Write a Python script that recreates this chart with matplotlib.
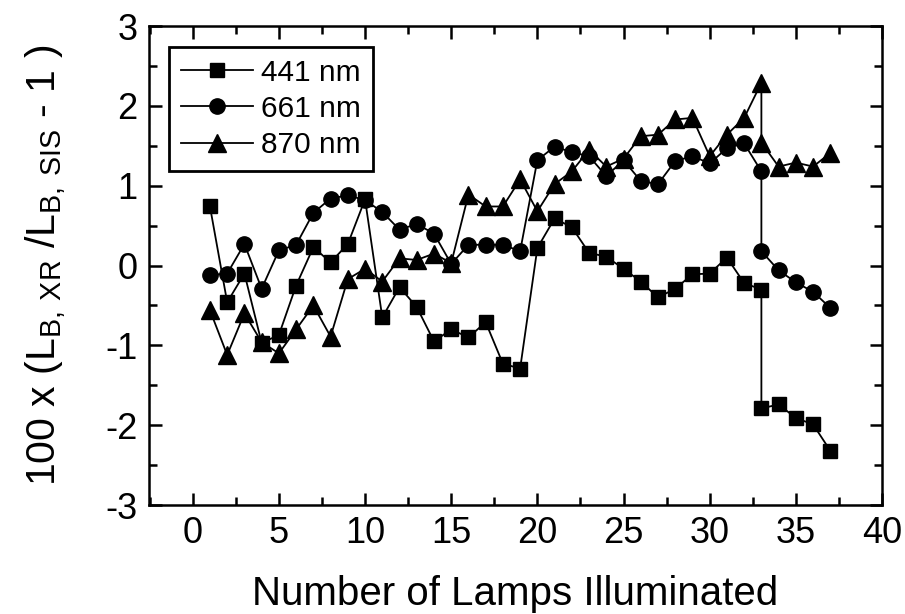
import matplotlib
matplotlib.use('Agg')
import matplotlib.pyplot as plt
from matplotlib.ticker import MultipleLocator

plt.rcParams['font.family'] = ['Liberation Sans', 'DejaVu Sans']
plt.rcParams['mathtext.fontset'] = 'custom'
plt.rcParams['mathtext.rm'] = 'Liberation Sans'
plt.rcParams['axes.unicode_minus'] = False

# lamp count (33 was measured twice)
lamps = list(range(1, 34)) + [33, 34, 35, 36, 37]

nm441 = [0.74, -0.46, -0.10, -0.97, -0.87, -0.25, 0.23, 0.04, 0.27, 0.83,
         -0.65, -0.27, -0.52, -0.95, -0.80, -0.90, -0.71, -1.23, -1.29, 0.22,
         0.59, 0.48, 0.16, 0.11, -0.04, -0.20, -0.40, -0.29, -0.11, -0.10,
         0.10, -0.22, -0.30, -1.79, -1.74, -1.91, -1.99, -2.32]
nm661 = [-0.12, -0.10, 0.27, -0.29, 0.19, 0.26, 0.66, 0.84, 0.88, 0.82,
         0.67, 0.45, 0.52, 0.40, 0.02, 0.26, 0.26, 0.26, 0.18, 1.32,
         1.49, 1.42, 1.37, 1.12, 1.32, 1.06, 1.02, 1.31, 1.37, 1.28,
         1.47, 1.53, 1.18, 0.18, -0.06, -0.21, -0.33, -0.53]
nm870 = [-0.56, -1.12, -0.60, -0.96, -1.10, -0.80, -0.50, -0.89, -0.17, -0.04,
         -0.20, 0.09, 0.07, 0.15, 0.03, 0.89, 0.74, 0.74, 1.08, 0.68,
         1.02, 1.18, 1.45, 1.24, 1.34, 1.62, 1.64, 1.83, 1.85, 1.37,
         1.64, 1.85, 2.29, 1.54, 1.24, 1.29, 1.24, 1.41]

labels = ['441 nm', '661 nm', '870 nm']
markers = ['s', 'o', '^']
sizes = [10.5, 11, 13]

fig = plt.figure(figsize=(9.05, 6.14), dpi=100)
ax = fig.add_axes([0.1646, 0.1775, 0.8100, 0.7800])

for data, lab, m, ms in zip([nm441, nm661, nm870], labels, markers, sizes):
    ax.plot(lamps, data, color='black', lw=1.3, marker=m, ms=ms,
            mfc='black', mec='black', label=lab)

ax.set_xlim(-2.54, 40)
ax.set_ylim(-3, 3)
ax.xaxis.set_major_locator(MultipleLocator(5))
ax.xaxis.set_minor_locator(MultipleLocator(2.5))
ax.yaxis.set_major_locator(MultipleLocator(1))
ax.yaxis.set_minor_locator(MultipleLocator(0.5))
ax.tick_params(which='both', direction='in', top=True, right=True,
               width=1.8, labelsize=26, pad=8)
ax.tick_params(which='major', length=9)
ax.tick_params(which='minor', length=6)
for s in ax.spines.values():
    s.set_linewidth(1.8)

ax.set_xlabel('Number of Lamps Illuminated', fontsize=29, labelpad=17)
ax.set_ylabel(r'100 x (L$_{\mathregular{B,\,XR}}$ /L$_{\mathregular{B,\,SIS}}$ - 1 )',
              fontsize=29.5, labelpad=26)

leg = ax.legend(loc='upper left', bbox_to_anchor=(0.028, 0.956), borderaxespad=0,
                fontsize=21.5, fancybox=False, edgecolor='black', framealpha=1,
                handlelength=2.4, handletextpad=0.3, labelspacing=0.28,
                borderpad=0.38)
leg.get_frame().set_linewidth(2)

plt.savefig('out.png', dpi=100)
